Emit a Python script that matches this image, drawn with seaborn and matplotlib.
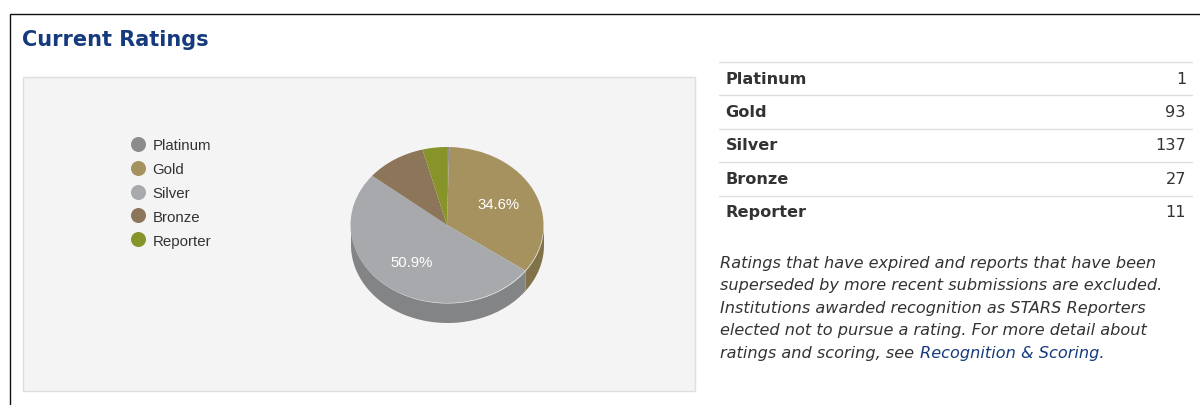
import numpy as np
import seaborn as sns
import matplotlib.pyplot as plt
from matplotlib.lines import Line2D
from matplotlib.patches import Rectangle

ratings = ['Platinum', 'Gold', 'Silver', 'Bronze', 'Reporter']
counts = [1, 93, 137, 27, 11]
pie_colors = ['#8c8c8c', '#a6925f', '#a7a9ac', '#8c7558', '#87942a']
note_lines = [
    'Ratings that have expired and reports that have been',
    'superseded by more recent submissions are excluded.',
    'Institutions awarded recognition as STARS Reporters',
    'elected not to pursue a rating. For more detail about',
    'ratings and scoring, see ',
]
link_text = 'Recognition & Scoring.'

sns.set_theme(style='white')
plt.rcParams['font.family'] = ['DejaVu Sans']

palette = sns.color_palette(pie_colors)
navy = '#153a7d'
body = '#333333'
W, H = 1200, 406

fig = plt.figure(figsize=(W / 100, H / 100), dpi=100, facecolor='white')

# page in pixel coordinates
bg = fig.add_axes([0, 0, 1, 1])
bg.set_xlim(0, W)
bg.set_ylim(H, 0)
bg.axis('off')

# box around the section
bg.plot([10, 10, W], [H, 14.5, 14.5], color='#111111', lw=1.0, solid_joinstyle='miter')
bg.text(22.5, 39.5, 'Current Ratings', color=navy, fontsize=15.05, fontweight='bold', va='center')

# chart panel
bg.add_patch(Rectangle((23, 78), 671.5, 313.5, facecolor='#f4f4f4', edgecolor='#dedede', lw=1))

# legend
handles = [Line2D([], [], ls='', marker='o', ms=10.8, mfc=c, mec='none') for c in palette]
bg.legend(handles, ratings, loc='upper left', bbox_to_anchor=(117, 133), bbox_transform=bg.transData,
          frameon=False, prop={'family': 'Liberation Sans', 'size': 10.8}, labelcolor=body,
          labelspacing=0.66, handletextpad=-0.05, borderpad=0.4, borderaxespad=0)

# table
for i, (name, n) in enumerate(zip(ratings, counts)):
    y = 62.5 + i * 33.5
    bg.plot([719, 1192], [y, y], color='#dddddd', lw=1)
    bg.text(725.5, y + 16.5, name, color=body, fontsize=11.6, fontweight='bold', va='center')
    bg.text(1186, y + 16.5, str(n), color=body, fontsize=11.6, ha='right', va='center')

# note
for i, line in enumerate(note_lines):
    bg.text(719.5, 263.5 + i * 22.5, line, color=body, fontsize=11.62, style='italic', va='center')
bg.text(919.5, 263.5 + 4 * 22.5, link_text, color=navy, fontsize=11.62, style='italic', va='center')

# pie, squashed to an ellipse, with a wall under the front half
rx, ry, depth = 96.5, 78, 19.5
d = depth / ry
pie_ax = fig.add_axes([(447 - rx) / W, 1 - (226 + ry + depth) / H, 2 * rx / W, (2 * ry + depth) / H])
pie_ax.patch.set_alpha(0)

ends = np.cumsum(counts) / sum(counts) * 360
starts = ends - np.array(counts) / sum(counts) * 360
for t0, t1, c in zip(starts, ends, palette):
    a, b = max(t0, 90), min(t1, 270)
    if a < b:
        t = np.radians(np.linspace(a, b, 80))
        pie_ax.fill_between(np.sin(t), np.cos(t), np.cos(t) - d, lw=0,
                            color=tuple(v * 0.78 for v in c), clip_on=False)

wedges, texts, autotexts = pie_ax.pie(
    counts, colors=palette, startangle=90, counterclock=False, radius=1,
    autopct=lambda p: f'{p:.1f}%' if p > 20 else '', pctdistance=0.6,
    wedgeprops={'linewidth': 0},
    textprops={'color': 'white', 'family': 'Liberation Sans', 'size': 10.7},
)
for w in wedges:
    w.set_clip_on(False)
pie_ax.set_aspect('auto')
pie_ax.set_xlim(-1, 1)
pie_ax.set_ylim(-1 - d, 1)
pie_ax.axis('off')

fig.savefig('out.png', dpi=100)
